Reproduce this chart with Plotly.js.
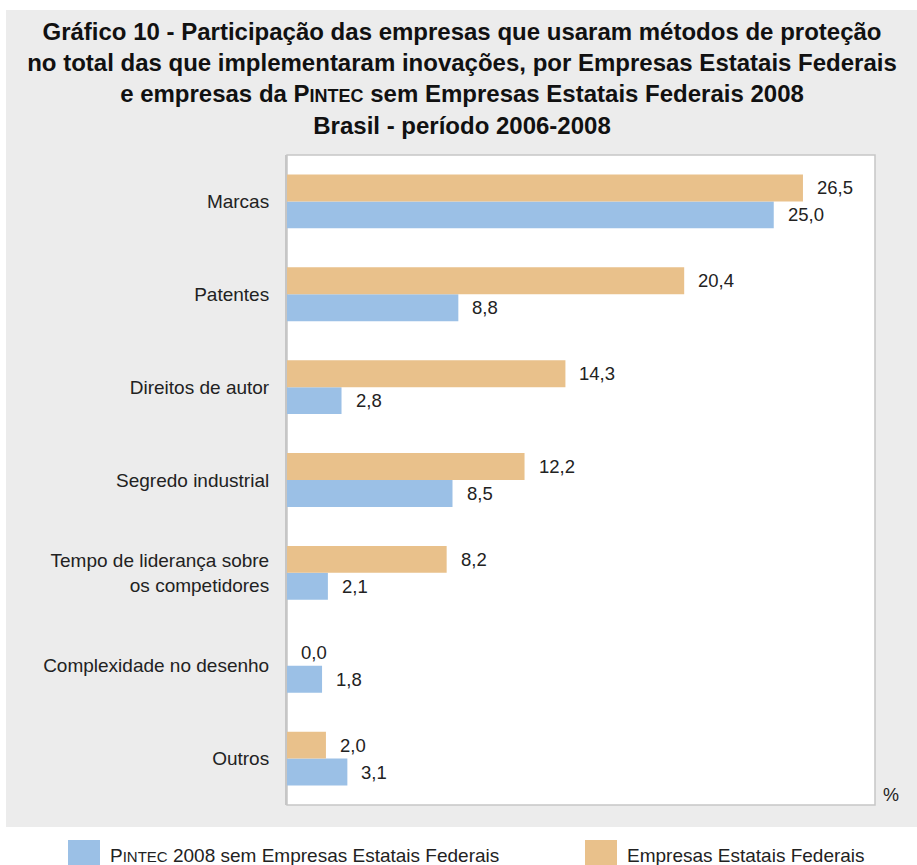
<!DOCTYPE html>
<html>
<head>
<meta charset="utf-8">
<script src="https://cdn.plot.ly/plotly-3.0.1.min.js"></script>
<style>html,body{margin:0;padding:0;background:#fff;}#chart{width:917px;height:865px;}</style>
</head>
<body>
<div id="chart"></div>
<script>
// Data
const categories = ["Marcas", "Patentes", "Direitos de autor", "Segredo industrial",
  "Tempo de liderança sobre<br>os competidores", "Complexidade no desenho", "Outros"];
const pintecValues = [25.0, 8.8, 2.8, 8.5, 2.1, 1.8, 3.1];
const estataisValues = [26.5, 20.4, 14.3, 12.2, 8.2, 0.0, 2.0];
const seriesNames = ["P<span style=\"font-size:15px\">INTEC</span> 2008 sem Empresas Estatais Federais", "Empresas Estatais Federais"];
const seriesColors = ["#9bc0e6", "#e9c18b"];

const FONT = 'Liberation Sans, Arial, sans-serif';
const fmt = v => v.toFixed(1).replace('.', ',');
const order = categories.slice().reverse();

const traces = [
  {type: 'bar', orientation: 'h', name: 'Pintec 2008 sem Empresas Estatais Federais', y: categories, x: pintecValues,
   marker: {color: seriesColors[0]}, hoverinfo: 'x+y'},
  {type: 'bar', orientation: 'h', name: 'Empresas Estatais Federais', y: categories, x: estataisValues,
   marker: {color: seriesColors[1]}, hoverinfo: 'x+y'}
];

const annotations = [];
const off = 0.145;
categories.forEach((c, i) => {
  const idx = order.indexOf(c);
  annotations.push({x: estataisValues[i], y: idx + off, xref: 'x', yref: 'y', text: fmt(estataisValues[i]),
    showarrow: false, xanchor: 'left', yanchor: 'middle', xshift: 12, yshift: 0,
    font: {family: FONT, size: 18.5, color: '#222'}});
  annotations.push({x: pintecValues[i], y: idx - off, xref: 'x', yref: 'y', text: fmt(pintecValues[i]),
    showarrow: false, xanchor: 'left', yanchor: 'middle', xshift: 12, yshift: 0,
    font: {family: FONT, size: 18.5, color: '#222'}});
});

// % label
annotations.push({x: 1.0, y: 0, xref: 'paper', yref: 'paper', text: '%', showarrow: false,
  xanchor: 'left', yanchor: 'bottom', xshift: 6, yshift: -2,
  font: {family: FONT, size: 18, color: '#222'}});

// Custom legend geometry (pixels)
const W = 917, H = 865, ml = 287, mr = 42, mt = 155, mb = 60;
const pw = W - ml - mr, ph = H - mt - mb;
const px = x => (x - ml) / pw;
const py = y => (H - mb - y) / ph;

const legendX = [68, 585];
const shapes = [
  {type: 'rect', xref: 'paper', yref: 'paper', x0: px(6), x1: px(917), y0: py(827), y1: py(10),
   fillcolor: '#ececec', line: {width: 0}, layer: 'below'},
  {type: 'rect', xref: 'paper', yref: 'paper', x0: 0, x1: 1, y0: 0, y1: 1,
   fillcolor: '#ffffff', line: {width: 1.5, color: '#c6c6c6'}, layer: 'below'}
];
seriesNames.forEach((n, i) => {
  shapes.push({type: 'rect', xref: 'paper', yref: 'paper', x0: px(legendX[i]), x1: px(legendX[i] + 32),
    y0: py(870), y1: py(840), fillcolor: seriesColors[i], line: {width: 0}});
  annotations.push({x: px(legendX[i] + 42), y: py(855), xref: 'paper', yref: 'paper', text: n, showarrow: false,
    xanchor: 'left', yanchor: 'middle', xshift: -2, font: {family: FONT, size: 19, color: '#222'}});
});

const layout = {
  width: W, height: H,
  margin: {l: ml, r: mr, t: mt, b: mb, pad: 0},
  paper_bgcolor: '#ffffff', plot_bgcolor: 'rgba(0,0,0,0)',
  barmode: 'group', bargap: 0.42, bargroupgap: 0,
  showlegend: false,
  title: {
    text: '<b>Gráfico 10 - Participação das empresas que usaram métodos de proteção<br>no total das que implementaram inovações, por Empresas Estatais Federais<br>e empresas da P<span style="font-size:18px">INTEC</span> sem Empresas Estatais Federais 2008<br>Brasil - período 2006-2008</b>',
    font: {family: FONT, size: 24, color: '#111'},
    x: 462 / W, xanchor: 'center', xref: 'container',
    y: 1 - 40 / H, yanchor: 'top', yref: 'container'
  },
  xaxis: {range: [0, 30.2], showgrid: false, zeroline: false, showticklabels: false, ticks: '', showline: false, fixedrange: true},
  yaxis: {type: 'category', categoryorder: 'array', categoryarray: order, showgrid: false, zeroline: false,
    ticks: '', ticklabelstandoff: 12, showline: true, linecolor: '#c6c6c6', linewidth: 2,
    tickfont: {family: FONT, size: 19, color: '#222'}, fixedrange: true},
  shapes: shapes,
  annotations: annotations
};

Plotly.newPlot('chart', traces, layout, {displayModeBar: false, staticPlot: true});
</script>
</body>
</html>
